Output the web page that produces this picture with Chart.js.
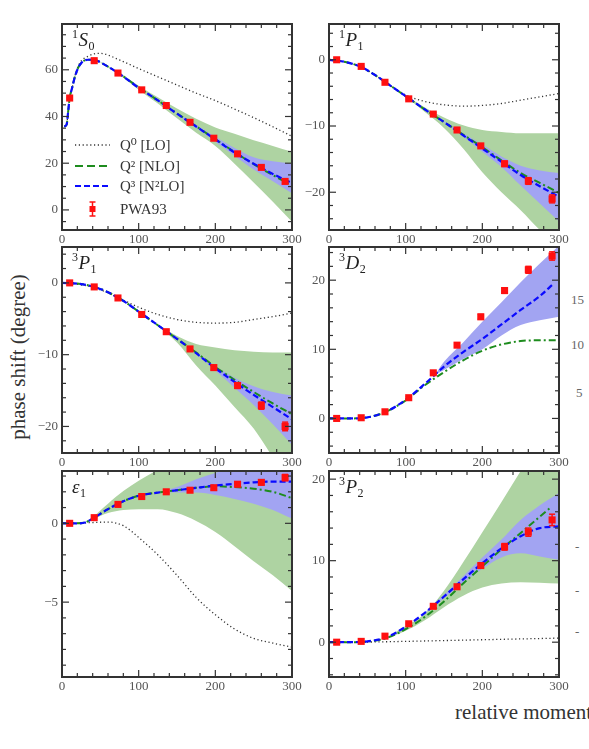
<!DOCTYPE html>
<html>
<head>
<meta charset="utf-8">
<script src="https://cdn.jsdelivr.net/npm/chart.js@4.4.1/dist/chart.umd.min.js"></script>
<style>
  body { margin: 0; width: 589px; height: 749px; background: #fff; position: relative; overflow: hidden; font-family: "Liberation Serif", serif; }
  canvas { position: absolute; }
  .txt { position: absolute; color: #333; white-space: nowrap; }
  #ytitle { left: 18px; top: 357px; font-size: 21px; transform: translate(-50%, -50%) rotate(-90deg); }
  #xtitle { left: 455px; top: 700px; font-size: 21px; }
  .edge { font-size: 13px; color: #666; }
</style>
</head>
<body>
<div class="txt" id="ytitle">phase shift (degree)</div>
<div class="txt" id="xtitle">relative momentum (MeV)</div>
<div class="txt edge" style="left:571px; top:292px;">15</div>
<div class="txt edge" style="left:571px; top:337px;">10</div>
<div class="txt edge" style="left:576px; top:385px;">5</div>
<div class="txt edge" style="left:575px; top:539px;">-</div>
<div class="txt edge" style="left:575px; top:583px;">-</div>
<div class="txt edge" style="left:575px; top:624px;">-</div>
<script>
// PWA93 momenta (MeV), shared by all panels
const pwaX = [10, 42, 73, 104, 136, 167, 198, 229, 260, 291];

// 1S0
const s0X = [3, 6, 8, 10, 13, 17, 23, 34, 42, 50, 75, 100, 125, 150, 175, 200, 225, 250, 275, 300];
const s0LO = [35.7, 36.5, 42, 48, 52, 57.5, 62.8, 65.8, 66.8, 67, 64.2, 60.5, 57, 53.5, 50, 46.8, 43.2, 39.5, 35.6, 31.5];
const s0NLO = [35.7, 36.5, 42, 48, 52, 57.2, 62, 64.3, 64.3, 63.2, 58.3, 52.4, 46.9, 41.3, 35.8, 30.3, 24.8, 19.6, 14.9, 10.4];
const s0N2LO = [35.7, 36.5, 42, 48, 52, 57.2, 62, 64.3, 64.3, 63.2, 58.2, 52.3, 46.9, 41.2, 35.7, 30.2, 24.6, 19.8, 15.4, 11.5];
const s0Pwa = [47.9, 63.9, 58.6, 51.4, 44.7, 37.5, 30.7, 24.0, 18.2, 12.2];
const s0Err = [0.3, 0.3, 0.3, 0.3, 0.4, 0.4, 0.5, 0.5, 0.6, 0.7];
const s0GreenX = [50, 75, 100, 125, 150, 175, 200, 225, 250, 275, 300];
const s0GreenHi = [63.4, 58.7, 53.2, 48.2, 43.4, 39.0, 35.3, 32.6, 29.8, 27.4, 24.9];
const s0GreenLo = [63.0, 57.8, 51.5, 45.6, 39.2, 33.0, 27.4, 19.8, 11.7, 3.5, -5.1];
const s0BlueX = [150, 175, 200, 225, 250, 275, 300];
const s0BlueHi = [41.5, 36.4, 31.3, 26.5, 22.5, 20.8, 19.9];
const s0BlueLo = [40.9, 35.1, 29.2, 23.2, 17.3, 12.3, 7.1];

// common curve grid for the other waves
const gX = [0, 20, 40, 60, 80, 100, 125, 150, 175, 200, 225, 250, 275, 300];

// 1P1
const p1LO = [0, -0.3, -1.0, -2.3, -3.9, -5.3, -6.3, -6.8, -7.0, -6.9, -6.6, -6.1, -5.6, -5.1];
const p1NLO = [0, -0.3, -1.0, -2.3, -3.9, -5.5, -7.5, -9.4, -11.3, -13.2, -15.2, -17.1, -18.6, -20.1];
const p1N2LO = [0, -0.3, -1.0, -2.3, -3.9, -5.5, -7.5, -9.4, -11.4, -13.4, -15.4, -17.4, -19.1, -20.7];
const p1Pwa = [0, -1.0, -3.4, -5.9, -8.2, -10.6, -13.0, -15.7, -18.3, -21.0];
const p1Err = [0.05, 0.05, 0.1, 0.15, 0.2, 0.25, 0.3, 0.4, 0.5, 0.6];
const p1GreenX = [100, 125, 150, 175, 200, 225, 250, 275, 300];
const p1GreenHi = [-5.4, -7.2, -8.7, -9.9, -10.6, -10.9, -11.1, -11.1, -11.1];
const p1GreenLo = [-5.6, -7.9, -10.3, -13.4, -17.0, -20.0, -22.7, -25.7, -28.5];
const p1BlueX = [150, 175, 200, 225, 250, 275, 300];
const p1BlueHi = [-9.3, -11.1, -12.8, -14.6, -16.0, -16.7, -17.1];
const p1BlueLo = [-9.5, -11.6, -13.9, -16.2, -19.0, -21.7, -24.4];

// 3P1
const t1LO = [0, -0.2, -0.6, -1.4, -2.4, -3.4, -4.4, -5.1, -5.5, -5.6, -5.5, -5.1, -4.7, -4.2];
const t1NLO = [0, -0.1, -0.5, -1.3, -2.5, -4.0, -5.9, -7.8, -9.7, -11.7, -13.5, -15.2, -16.8, -18.3];
const t1N2LO = [0, -0.1, -0.5, -1.3, -2.5, -4.0, -5.9, -7.8, -9.8, -11.9, -13.8, -15.6, -17.3, -19.0];
const t1Pwa = [0, -0.56, -2.1, -4.4, -6.8, -9.2, -11.8, -14.3, -17.1, -20.0];
const t1Err = [0.05, 0.05, 0.1, 0.15, 0.2, 0.25, 0.3, 0.4, 0.5, 0.6];
const t1GreenX = [125, 150, 175, 200, 225, 250, 275, 300];
const t1GreenHi = [-5.8, -7.4, -8.5, -9.0, -9.4, -9.6, -9.7, -9.7];
const t1GreenLo = [-6.0, -8.3, -11.5, -14.3, -17.3, -20.3, -24.3, -28.0];
const t1BlueX = [175, 200, 225, 250, 275, 300];
const t1BlueHi = [-9.7, -11.6, -13.2, -14.4, -15.2, -15.7];
const t1BlueLo = [-9.9, -12.2, -14.6, -17.0, -19.7, -22.6];

// 3D2
const d2X = [0, 25, 50, 75, 100, 125, 150, 175, 200, 225, 250, 275, 300];
const d2N2LOX = [0, 25, 50, 75, 100, 125, 150, 175, 200, 225, 250, 275, 292];
const d2NLO = [0, 0, 0.15, 1.0, 2.6, 4.8, 6.7, 8.4, 9.8, 10.7, 11.2, 11.3, 11.3];
const d2N2LO = [0, 0, 0.15, 1.0, 2.7, 5.0, 7.5, 9.6, 11.5, 13.6, 15.7, 17.7, 19.4];
const d2Pwa = [0, 0.1, 0.96, 3.0, 6.6, 10.6, 14.7, 18.5, 21.5, 23.5];
const d2Err = [0.05, 0.05, 0.1, 0.15, 0.2, 0.3, 0.35, 0.4, 0.5, 0.6];
const d2BlueX = [140, 150, 175, 200, 225, 250, 275, 300];
const d2BlueHi = [6.6, 8.2, 11.0, 14.0, 16.8, 19.7, 22.4, 25.0];
const d2BlueLo = [6.4, 7.0, 8.6, 10.0, 12.0, 13.5, 14.2, 14.7];

// epsilon1
const e1X = [0, 20, 30, 40, 60, 80, 100, 125, 150, 175, 200, 225, 250, 275, 300];
const e1LO = [0, 0, 0.03, 0.05, 0.08, -0.15, -0.9, -2.0, -3.3, -4.7, -5.8, -6.7, -7.3, -7.6, -7.85];
const e1NLO = [0, 0, 0.05, 0.3, 0.9, 1.4, 1.75, 1.95, 2.1, 2.25, 2.35, 2.3, 2.2, 2.0, 1.6];
const e1N2LO = [0, 0, 0.05, 0.3, 0.9, 1.4, 1.75, 1.95, 2.1, 2.25, 2.4, 2.5, 2.6, 2.65, 2.65];
const e1Pwa = [0, 0.36, 1.2, 1.7, 2.0, 2.1, 2.26, 2.48, 2.6, 2.9];
const e1Err = [0.02, 0.03, 0.05, 0.06, 0.08, 0.1, 0.12, 0.14, 0.16, 0.2];
const e1GreenX = [30, 40, 60, 80, 100, 125, 150, 175, 200, 225, 250, 275, 300];
const e1GreenHi = [0.06, 0.4, 1.25, 2.05, 2.7, 3.4, 4.1, 4.8, 5.4, 6.0, 6.6, 7.2, 7.8];
const e1GreenLo = [0.04, 0.25, 0.65, 0.85, 0.9, 0.9, 0.65, 0.15, -0.55, -1.45, -2.4, -3.3, -4.3];
const e1BlueX = [125, 150, 175, 200, 225, 250, 275, 300];
const e1BlueHi = [1.97, 2.3, 2.8, 3.2, 3.6, 4.0, 4.4, 4.8];
const e1BlueLo = [1.93, 1.95, 1.95, 1.8, 1.55, 1.25, 0.85, 0.3];

// 3P2
const t2X = [0, 25, 50, 75, 100, 125, 150, 175, 200, 225, 250, 275, 300];
const t2NLOX = [0, 25, 50, 75, 100, 125, 150, 175, 200, 225, 250, 275, 290];
const t2LOX = [0, 50, 100, 150, 200, 250, 300];
const t2LO = [0, 0.02, 0.1, 0.2, 0.3, 0.4, 0.5];
const t2NLO = [0, 0, 0.08, 0.5, 1.6, 3.1, 5.0, 7.2, 9.3, 11.4, 13.4, 15.4, 16.6];
const t2N2LO = [0, 0, 0.1, 0.6, 1.9, 3.6, 5.6, 7.7, 9.7, 11.5, 13.0, 14.0, 14.2];
const t2Pwa = [0, 0.1, 0.74, 2.26, 4.4, 6.8, 9.4, 11.7, 13.5, 15.0];
const t2Err = [0.05, 0.05, 0.1, 0.1, 0.15, 0.2, 0.3, 0.4, 0.5, 0.7];
const t2GreenX = [75, 100, 125, 150, 175, 200, 225, 250, 275, 300];
const t2GreenHi = [0.6, 2.0, 3.5, 6.3, 9.8, 13.5, 17.2, 21.0, 24.8, 28.6];
const t2GreenLo = [0.45, 1.4, 2.7, 4.3, 5.7, 6.7, 7.2, 7.35, 7.3, 7.2];
const t2BlueX = [125, 150, 175, 200, 225, 250, 275, 300];
const t2BlueHi = [3.65, 5.8, 8.1, 10.4, 12.6, 15.0, 16.8, 18.3];
const t2BlueLo = [3.55, 5.4, 7.3, 9.0, 10.4, 10.9, 10.5, 10.1];

const legendLabels = ["Q\u2070 [LO]", "Q\u00B2 [NLO]", "Q\u00B3 [N\u00B2LO]", "PWA93"];

const GREEN_BAND = "#aed3a2";
const BLUE_BAND = "#a2a4f2";
const GREEN = "#1e8c1e";
const BLUE = "#0a0aff";
const LO_COL = "#333";
const RED = "#ff1010";
const SERIF = '"Liberation Serif", "DejaVu Serif", serif';
const PAD = { l: 50, r: 26, t: 12, b: 24 };

const pts = (xs, ys) => xs.map((x, i) => ({ x: x, y: ys[i] }));
const fmt = (v) => (v < 0 ? "\u2212" + Math.abs(v) : String(v));

function line(ctx, x1, y1, x2, y2) {
  ctx.beginPath();
  ctx.moveTo(x1, y1);
  ctx.lineTo(x2, y2);
  ctx.stroke();
}

// frame, inward ticks, panel label and (panel 1) legend
const framePlugin = {
  id: "frame",
  afterDraw(chart, args, o) {
    const { ctx, chartArea: a } = chart;
    const x = chart.scales.x, y = chart.scales.y;
    ctx.save();
    ctx.strokeStyle = "#333";
    ctx.lineWidth = 1.2;
    for (let v = 0; v <= 300; v += 20) {
      const px = x.getPixelForValue(v);
      const len = v % 100 === 0 ? 7 : 4;
      line(ctx, px, a.bottom, px, a.bottom - len);
      line(ctx, px, a.top, px, a.top + len);
    }
    const first = Math.ceil(y.min / o.minor) * o.minor;
    for (let v = first; v <= y.max + 1e-9; v += o.minor) {
      const vv = Math.round(v * 1000) / 1000;
      const major = Math.abs(vv / o.major - Math.round(vv / o.major)) < 1e-6;
      const py = y.getPixelForValue(vv);
      const len = major ? 7 : 4;
      line(ctx, a.left, py, a.left + len, py);
      line(ctx, a.right, py, a.right - len, py);
    }
    ctx.lineWidth = 2;
    ctx.strokeRect(a.left, a.top, a.right - a.left, a.bottom - a.top);

    // wave label, e.g. 1S0
    ctx.fillStyle = "#222";
    ctx.textBaseline = "alphabetic";
    let cx = a.left + 10;
    const by = a.top + 22;
    o.label.forEach((part) => {
      if (part.sup || part.sub) {
        ctx.font = "12px " + SERIF;
        ctx.fillText(part.t, cx, part.sup ? by - 8 : by + 4);
      } else {
        ctx.font = "italic 19px " + SERIF;
        ctx.fillText(part.t, cx, by);
      }
      cx += ctx.measureText(part.t).width + 0.5;
    });

    if (o.legend) {
      const rows = [121, 142, 162, 185];
      const x0 = a.left + 13, x1 = a.left + 48, tx = a.left + 58;
      ctx.lineWidth = 1.3;
      ctx.strokeStyle = LO_COL;
      ctx.setLineDash([1.2, 2.6]);
      line(ctx, x0, a.top + rows[0], x1, a.top + rows[0]);
      ctx.lineWidth = 2;
      ctx.strokeStyle = GREEN;
      ctx.setLineDash([8, 4]);
      line(ctx, x0, a.top + rows[1], x1, a.top + rows[1]);
      ctx.strokeStyle = BLUE;
      ctx.setLineDash([6, 3]);
      line(ctx, x0, a.top + rows[2], x1, a.top + rows[2]);
      ctx.setLineDash([]);
      const mx = (x0 + x1) / 2, my = a.top + rows[3];
      ctx.strokeStyle = RED;
      ctx.fillStyle = RED;
      ctx.lineWidth = 1.5;
      line(ctx, mx, my - 7, mx, my + 7);
      line(ctx, mx - 3, my - 7, mx + 3, my - 7);
      line(ctx, mx - 3, my + 7, mx + 3, my + 7);
      ctx.fillRect(mx - 3, my - 3, 6, 6);
      ctx.fillStyle = "#333";
      ctx.font = "15px " + SERIF;
      ctx.textBaseline = "middle";
      legendLabels.forEach((t, i) => ctx.fillText(t, tx, a.top + rows[i] + 1));
    }
    ctx.restore();
  },
};

// vertical error bars for the PWA93 points
const errorPlugin = {
  id: "errbars",
  afterDatasetsDraw(chart) {
    const ctx = chart.ctx, y = chart.scales.y;
    chart.data.datasets.forEach((ds, i) => {
      if (!ds.errors) return;
      const meta = chart.getDatasetMeta(i);
      ctx.save();
      ctx.strokeStyle = RED;
      ctx.lineWidth = 1.5;
      meta.data.forEach((pt, j) => {
        const v = ds.data[j].y, e = ds.errors[j];
        const y1 = y.getPixelForValue(v + e), y2 = y.getPixelForValue(v - e);
        line(ctx, pt.x, y1, pt.x, y2);
        line(ctx, pt.x - 3, y1, pt.x + 3, y1);
        line(ctx, pt.x - 3, y2, pt.x + 3, y2);
      });
      ctx.restore();
    });
  },
};

function band(datasets, xs, hi, lo, color, order) {
  const idx = datasets.length;
  datasets.push({ data: pts(xs, hi), borderWidth: 0, pointRadius: 0, fill: false, order: order, cubicInterpolationMode: "monotone" });
  datasets.push({ data: pts(xs, lo), borderWidth: 0, pointRadius: 0, fill: idx, backgroundColor: color, order: order, cubicInterpolationMode: "monotone" });
}

function curve(datasets, xs, ys, color, dash, width, order) {
  datasets.push({
    data: pts(xs, ys), borderColor: color, borderDash: dash, borderWidth: width,
    pointRadius: 0, fill: false, order: order, cubicInterpolationMode: "monotone",
  });
}

function buildPanel(p) {
  const W = p.box.w + PAD.l + PAD.r, H = p.box.h + PAD.t + PAD.b;
  const canvas = document.createElement("canvas");
  canvas.width = W;
  canvas.height = H;
  canvas.style.left = p.box.left - PAD.l + "px";
  canvas.style.top = p.box.top - PAD.t + "px";
  canvas.style.width = W + "px";
  canvas.style.height = H + "px";
  document.body.appendChild(canvas);

  const datasets = [];
  if (p.green) band(datasets, p.green[0], p.green[1], p.green[2], GREEN_BAND, 6);
  if (p.blue) band(datasets, p.blue[0], p.blue[1], p.blue[2], BLUE_BAND, 5);
  if (p.lo) curve(datasets, p.lo[0], p.lo[1], LO_COL, [1.2, 2.6], 1.3, 4);
  curve(datasets, p.nlo[0], p.nlo[1], GREEN, [7, 3, 2, 3], 2, 3);
  curve(datasets, p.n2lo[0], p.n2lo[1], BLUE, [6, 3], 2.2, 2);
  datasets.push({
    data: pts(pwaX, p.pwa), errors: p.err, showLine: false, pointStyle: "rect",
    pointRadius: 5, backgroundColor: RED, borderColor: RED, borderWidth: 0, order: 1,
  });

  const tickFont = { family: SERIF, size: 13 };
  new Chart(canvas, {
    type: "line",
    data: { datasets: datasets },
    options: {
      responsive: false,
      animation: false,
      devicePixelRatio: 1,
      layout: { padding: { top: PAD.t, right: PAD.r, left: 0, bottom: 0 } },
      plugins: {
        legend: { display: false },
        tooltip: { enabled: false },
        frame: { label: p.label, major: p.major, minor: p.minor, legend: !!p.legend },
      },
      scales: {
        x: {
          type: "linear", min: 0, max: 300,
          afterFit: (s) => { s.height = PAD.b; },
          grid: { display: false, drawTicks: false },
          border: { display: false },
          ticks: { stepSize: 100, includeBounds: false, maxRotation: 0, font: tickFont, color: "#555", padding: 2 },
        },
        y: {
          type: "linear", min: p.min, max: p.max,
          afterFit: (s) => { s.width = PAD.l; },
          grid: { display: false, drawTicks: false },
          border: { display: false },
          ticks: { stepSize: p.major, includeBounds: false, font: tickFont, color: "#555", padding: 4, callback: fmt },
        },
      },
    },
    plugins: [errorPlugin, framePlugin],
  });
}

const panels = [
  {
    box: { left: 62, top: 24, w: 230, h: 206 }, min: -8.6, max: 79.6, major: 20, minor: 5, legend: true,
    label: [{ t: "1", sup: true }, { t: "S" }, { t: "0", sub: true }],
    green: [s0GreenX, s0GreenHi, s0GreenLo], blue: [s0BlueX, s0BlueHi, s0BlueLo],
    lo: [s0X, s0LO], nlo: [s0X, s0NLO], n2lo: [s0X, s0N2LO], pwa: s0Pwa, err: s0Err,
  },
  {
    box: { left: 329, top: 24, w: 230, h: 206 }, min: -25.7, max: 5.4, major: 10, minor: 2,
    label: [{ t: "1", sup: true }, { t: "P" }, { t: "1", sub: true }],
    green: [p1GreenX, p1GreenHi, p1GreenLo], blue: [p1BlueX, p1BlueHi, p1BlueLo],
    lo: [gX, p1LO], nlo: [gX, p1NLO], n2lo: [gX, p1N2LO], pwa: p1Pwa, err: p1Err,
  },
  {
    box: { left: 62, top: 247, w: 230, h: 206 }, min: -23.7, max: 5.0, major: 10, minor: 2,
    label: [{ t: "3", sup: true }, { t: "P" }, { t: "1", sub: true }],
    green: [t1GreenX, t1GreenHi, t1GreenLo], blue: [t1BlueX, t1BlueHi, t1BlueLo],
    lo: [gX, t1LO], nlo: [gX, t1NLO], n2lo: [gX, t1N2LO], pwa: t1Pwa, err: t1Err,
  },
  {
    box: { left: 329, top: 247, w: 230, h: 206 }, min: -5.0, max: 24.8, major: 10, minor: 2,
    label: [{ t: "3", sup: true }, { t: "D" }, { t: "2", sub: true }],
    blue: [d2BlueX, d2BlueHi, d2BlueLo],
    nlo: [d2X, d2NLO], n2lo: [d2N2LOX, d2N2LO], pwa: d2Pwa, err: d2Err,
  },
  {
    box: { left: 62, top: 471, w: 230, h: 206 }, min: -9.75, max: 3.32, major: 5, minor: 1,
    label: [{ t: "\u03B5" }, { t: "1", sub: true }],
    green: [e1GreenX, e1GreenHi, e1GreenLo], blue: [e1BlueX, e1BlueHi, e1BlueLo],
    lo: [e1X, e1LO], nlo: [e1X, e1NLO], n2lo: [e1X, e1N2LO], pwa: e1Pwa, err: e1Err,
  },
  {
    box: { left: 329, top: 471, w: 230, h: 206 }, min: -4.27, max: 21.0, major: 10, minor: 2,
    label: [{ t: "3", sup: true }, { t: "P" }, { t: "2", sub: true }],
    green: [t2GreenX, t2GreenHi, t2GreenLo], blue: [t2BlueX, t2BlueHi, t2BlueLo],
    lo: [t2LOX, t2LO], nlo: [t2NLOX, t2NLO], n2lo: [t2X, t2N2LO], pwa: t2Pwa, err: t2Err,
  },
];

panels.forEach(buildPanel);
</script>
</body>
</html>
